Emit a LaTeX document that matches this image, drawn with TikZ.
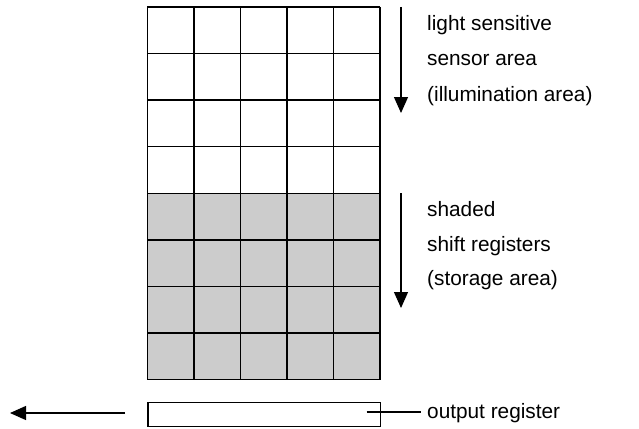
\documentclass[tikz,border=0pt]{standalone}
\usepackage{fontspec}
\setmainfont{Liberation Sans}
\usetikzlibrary{arrows.meta}
\definecolor{cellgray}{HTML}{CCCCCC}
\tikzset{
  cellline/.style={draw=black, line width=1.4pt},
  lbl/.style={anchor=base west, inner sep=0pt, font=\fontsize{20.8}{24}\selectfont},
  arr/.style={draw=black, line width=1.2pt, -{Triangle[length=16pt,width=14pt]}}
}
\begin{document}
\begin{tikzpicture}[x=1pt,y=-1pt]
\useasboundingbox (0,0) rectangle (639,428);
% shaded area
\fill[cellgray] (147.3,193.4) rectangle (380,379.5);
% grid
\foreach \i in {0,...,5} {
  \draw[cellline] ({147.3+\i*46.54},7) -- ({147.3+\i*46.54},379.5);
}
\foreach \j in {0,...,8} {
  \draw[cellline] (147.3,{7+\j*46.56}) -- (380,{7+\j*46.56});
}
% output register
\node[draw=black, line width=1.4pt, minimum width=232.7pt, minimum height=24pt, inner sep=0pt, anchor=north west] (reg) at (147.3,402) {};
\coordinate (regin) at (366.7,412);
\node[lbl] (outlbl) at (427,418.5) {output register};
\draw[line width=1.2pt] (regin) -- ([xshift=-6pt]outlbl.west |- regin);
% output arrow
\coordinate (oa) at (125,413);
\coordinate (ob) at (10,413);
\draw[arr] (oa) -- (ob);
% arrows on the right
\coordinate (a1s) at (401,7);
\coordinate (a1e) at (401,113);
\draw[arr] (a1s) -- (a1e);
\coordinate (a2s) at (401,193);
\coordinate (a2e) at (401,308);
\draw[arr] (a2s) -- (a2e);
% labels
\node[lbl] (l1) at (427,31) {light sensitive};
\node[lbl] (l2) at (427,66) {sensor area};
\node[lbl] (l3) at (427,101) {(illumination area)};
\node[lbl] (s1) at (427,216) {shaded};
\node[lbl] (s2) at (427,251) {shift registers};
\node[lbl] (s3) at (427,285) {(storage area)};
\end{tikzpicture}
\end{document}
